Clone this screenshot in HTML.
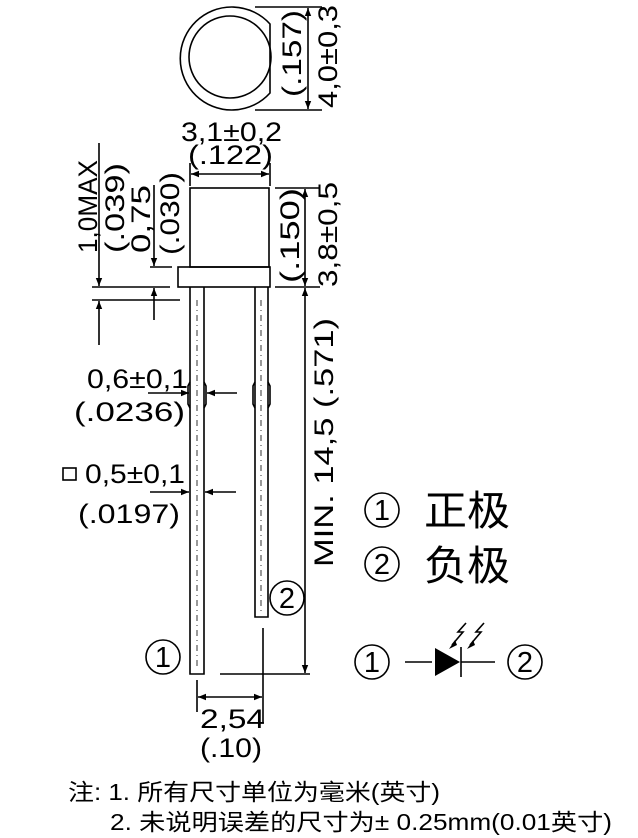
<!DOCTYPE html>
<html><head><meta charset="utf-8"><style>
html,body{margin:0;padding:0;background:#fff;}
svg{display:block;}
text{font-family:"Liberation Sans","Noto Sans CJK SC",sans-serif;fill:#000;}
</style></head><body>
<svg width="638" height="838" viewBox="0 0 638 838" xmlns="http://www.w3.org/2000/svg">
<defs>
<marker id="a" viewBox="0 0 10 10" refX="10" refY="5" markerWidth="12" markerHeight="8" markerUnits="userSpaceOnUse" orient="auto"><path d="M0,1 L10,5 L0,9 z" fill="#000"/></marker>
</defs>
<g stroke="#000" stroke-width="1.6" fill="none">
<path d="M270,24 A51.5,51.5 0 1 0 270,93 Z"/>
<circle cx="230" cy="57" r="41"/>
<line x1="255" y1="7" x2="322" y2="7"/>
<line x1="255" y1="110" x2="322" y2="110"/>
<line x1="308" y1="58" x2="308" y2="8" marker-end="url(#a)"/>
<line x1="308" y1="58" x2="308" y2="109" marker-end="url(#a)"/>
<rect x="190" y="188" width="79" height="79"/>
<rect x="178" y="267" width="92" height="20"/>
<path d="M190,287 L190,674 L204,674 L204,287"/>
<path d="M255,287 L255,617 L268,617 L268,287"/>
<path d="M190,382 L188,386 L188,404 L190,408"/>
<path d="M204,382 L206,386 L206,404 L204,408"/>
<path d="M255,382 L253,386 L253,404 L255,408"/>
<path d="M268,382 L270,386 L270,404 L268,408"/>
<line x1="190" y1="163" x2="190" y2="186"/>
<line x1="270" y1="163" x2="270" y2="186"/>
<line x1="230" y1="174" x2="191" y2="174" marker-end="url(#a)"/>
<line x1="230" y1="174" x2="269" y2="174" marker-end="url(#a)"/>
<line x1="99" y1="143" x2="99" y2="286" marker-end="url(#a)"/>
<line x1="92" y1="287" x2="170" y2="287"/>
<line x1="92" y1="300" x2="180" y2="300"/>
<line x1="99" y1="345" x2="99" y2="301" marker-end="url(#a)"/>
<line x1="154" y1="185" x2="154" y2="266" marker-end="url(#a)"/>
<line x1="150" y1="267" x2="172" y2="267"/>
<line x1="154" y1="320" x2="154" y2="288" marker-end="url(#a)"/>
<line x1="275" y1="188" x2="320" y2="188"/>
<line x1="275" y1="287" x2="320" y2="287"/>
<line x1="305" y1="238" x2="305" y2="189" marker-end="url(#a)"/>
<line x1="305" y1="238" x2="305" y2="286" marker-end="url(#a)"/>
<line x1="305" y1="300" x2="305" y2="288" marker-end="url(#a)"/>
<line x1="305" y1="300" x2="305" y2="673" marker-end="url(#a)"/>
<line x1="220" y1="674" x2="310" y2="674"/>
<line x1="197" y1="680" x2="197" y2="712"/>
<line x1="263" y1="628" x2="263" y2="722"/>
<line x1="230" y1="697" x2="198" y2="697" marker-end="url(#a)"/>
<line x1="230" y1="697" x2="262" y2="697" marker-end="url(#a)"/>
<line x1="148" y1="393" x2="189" y2="393" marker-end="url(#a)"/>
<line x1="237" y1="393" x2="207" y2="393" marker-end="url(#a)"/>
<line x1="150" y1="492" x2="189" y2="492" marker-end="url(#a)"/>
<line x1="236" y1="492" x2="205" y2="492" marker-end="url(#a)"/>
<circle cx="287" cy="598" r="17"/>
<circle cx="163" cy="657" r="17"/>
<circle cx="382" cy="510" r="17"/>
<circle cx="382" cy="564" r="17"/>
<circle cx="372" cy="662" r="17"/>
<circle cx="525" cy="662" r="17"/>
<rect x="63" y="468" width="13" height="12"/>
<line x1="405" y1="662" x2="432" y2="662"/>
<line x1="461" y1="662" x2="495" y2="662"/>
<line x1="461" y1="647" x2="461" y2="677"/>
<path d="M466,623 L458,632 L463,632 L452,645"/>
<path d="M484,623 L476,632 L481,632 L470,645"/>
</g>
<polygon points="435,648 435,676 460,662" fill="#000"/>
<polygon points="449,649 455,640 457,645" fill="#000"/>
<polygon points="467,649 473,640 475,645" fill="#000"/>
<line x1="197" y1="300" x2="197" y2="670" stroke="#000" stroke-width="0.8" stroke-dasharray="6,4,1,4"/>
<line x1="261" y1="300" x2="261" y2="612" stroke="#000" stroke-width="0.8" stroke-dasharray="6,4,1,4"/>
<g font-size="27">
<text x="181" y="141" textLength="101" lengthAdjust="spacingAndGlyphs">3,1±0,2</text>
<text x="188" y="164" textLength="85" lengthAdjust="spacingAndGlyphs">(.122)</text>
<text transform="translate(301,97) rotate(-90)" textLength="87" lengthAdjust="spacingAndGlyphs">(.157)</text>
<text transform="translate(337,108) rotate(-90)" textLength="103" lengthAdjust="spacingAndGlyphs">4,0±0,3</text>
<text transform="translate(299,283) rotate(-90)" textLength="95" lengthAdjust="spacingAndGlyphs">(.150)</text>
<text transform="translate(337,287) rotate(-90)" textLength="105" lengthAdjust="spacingAndGlyphs">3,8±0,5</text>
<text transform="translate(333,567) rotate(-90)" textLength="249" lengthAdjust="spacingAndGlyphs">MIN. 14,5 (.571)</text>
<text transform="translate(97,253) rotate(-90)" textLength="93" lengthAdjust="spacingAndGlyphs">1,0MAX</text>
<text transform="translate(124,253) rotate(-90)" textLength="90" lengthAdjust="spacingAndGlyphs">(.039)</text>
<text transform="translate(150,253) rotate(-90)" textLength="68" lengthAdjust="spacingAndGlyphs">0,75</text>
<text transform="translate(179,255) rotate(-90)" textLength="83" lengthAdjust="spacingAndGlyphs">(.030)</text>
<text x="87" y="388" textLength="101" lengthAdjust="spacingAndGlyphs">0,6±0,1</text>
<text x="74" y="421" textLength="111" lengthAdjust="spacingAndGlyphs">(.0236)</text>
<text x="85" y="483" textLength="100" lengthAdjust="spacingAndGlyphs">0,5±0,1</text>
<text x="78" y="523" textLength="102" lengthAdjust="spacingAndGlyphs">(.0197)</text>
<text x="200" y="728" textLength="65" lengthAdjust="spacingAndGlyphs">2,54</text>
<text x="200" y="757" textLength="62" lengthAdjust="spacingAndGlyphs">(.10)</text>
</g>
<g font-size="29" text-anchor="middle">
<text x="287" y="608">2</text>
<text x="163" y="667">1</text>
<text x="382" y="520">1</text>
<text x="382" y="574">2</text>
<text x="372" y="672">1</text>
<text x="525" y="672">2</text>
</g>
<text x="424" y="525" font-size="41" textLength="86" lengthAdjust="spacingAndGlyphs">正极</text>
<text x="424" y="580" font-size="41" textLength="86" lengthAdjust="spacingAndGlyphs">负极</text>
<text x="68" y="800" font-size="23" textLength="372" lengthAdjust="spacingAndGlyphs">注: 1. 所有尺寸单位为毫米(英寸)</text>
<text x="110" y="830" font-size="23" textLength="502" lengthAdjust="spacingAndGlyphs">2. 未说明误差的尺寸为± 0.25mm(0.01英寸)</text>
</svg>
</body></html>
